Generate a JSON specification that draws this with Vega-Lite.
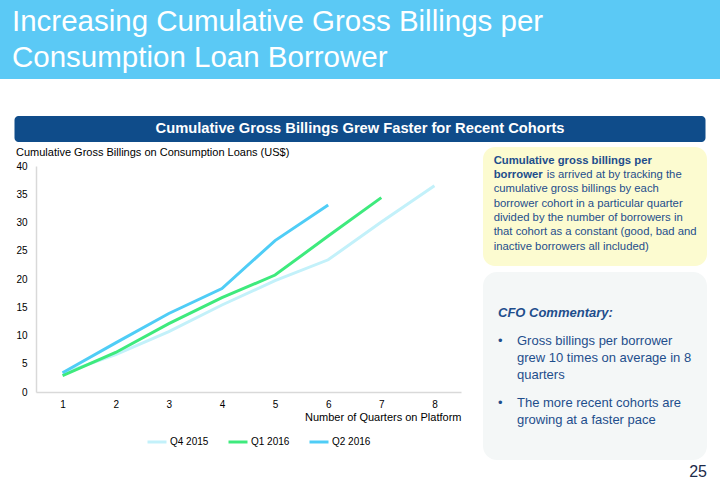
{
  "$schema": "https://vega.github.io/schema/vega-lite/v6.json",
  "background": "white",
  "padding": 0,
  "config": {
    "font": "Liberation Sans",
    "view": {"stroke": null}
  },
  "datasets": {
    "header": [
      {"line": 1, "level": 0, "text": "Increasing Cumulative Gross Billings per"},
      {"line": 2, "level": 0, "text": "Consumption Loan Borrower"}
    ],
    "banner": [
      {"text": "Cumulative Gross Billings Grew Faster for Recent Cohorts"}
    ],
    "charttitle": [
      {"level": 0, "text": "Cumulative Gross Billings on Consumption Loans (US$)"}
    ],
    "empty": [],
    "series": [
      {"cohort": "Q4 2015", "quarter": 1, "billings": 3.3},
      {"cohort": "Q4 2015", "quarter": 2, "billings": 6.6},
      {"cohort": "Q4 2015", "quarter": 3, "billings": 10.7},
      {"cohort": "Q4 2015", "quarter": 4, "billings": 15.4},
      {"cohort": "Q4 2015", "quarter": 5, "billings": 19.7},
      {"cohort": "Q4 2015", "quarter": 6, "billings": 23.4},
      {"cohort": "Q4 2015", "quarter": 7, "billings": 30.1},
      {"cohort": "Q4 2015", "quarter": 8, "billings": 36.5},
      {"cohort": "Q1 2016", "quarter": 1, "billings": 2.9},
      {"cohort": "Q1 2016", "quarter": 2, "billings": 7.0},
      {"cohort": "Q1 2016", "quarter": 3, "billings": 12.1},
      {"cohort": "Q1 2016", "quarter": 4, "billings": 16.7},
      {"cohort": "Q1 2016", "quarter": 5, "billings": 20.7},
      {"cohort": "Q1 2016", "quarter": 6, "billings": 27.6},
      {"cohort": "Q1 2016", "quarter": 7, "billings": 34.4},
      {"cohort": "Q2 2016", "quarter": 1, "billings": 3.4},
      {"cohort": "Q2 2016", "quarter": 2, "billings": 8.7},
      {"cohort": "Q2 2016", "quarter": 3, "billings": 13.9},
      {"cohort": "Q2 2016", "quarter": 4, "billings": 18.3},
      {"cohort": "Q2 2016", "quarter": 5, "billings": 26.8},
      {"cohort": "Q2 2016", "quarter": 6, "billings": 33.1}
    ],
    "definition": [
      {"line": 1, "level": 0, "weight": "bold", "text": "Cumulative gross billings per"},
      {"line": 2, "level": 0, "weight": "bold", "text": "borrower"},
      {"line": 2, "level": 0, "weight": "run", "text": "is arrived  at by tracking  the"},
      {"line": 3, "level": 0, "weight": "regular", "text": "cumulative gross billings by each"},
      {"line": 4, "level": 0, "weight": "regular", "text": "borrower cohort in a particular quarter"},
      {"line": 5, "level": 0, "weight": "regular", "text": "divided by the number of borrowers in"},
      {"line": 6, "level": 0, "weight": "regular", "text": "that cohort as a constant (good, bad and"},
      {"line": 7, "level": 0, "weight": "regular", "text": "inactive borrowers all included)"}
    ],
    "commentary": [
      {"para": 0, "line": 1, "level": 0, "text": "CFO Commentary:"},
      {"para": 1, "line": 2, "level": 0, "text": "•"},
      {"para": 1, "line": 2, "level": 1, "text": "Gross billings per borrower"},
      {"para": 1, "line": 3, "level": 1, "text": "grew 10 times on average in 8"},
      {"para": 1, "line": 4, "level": 1, "text": "quarters"},
      {"para": 2, "line": 5, "level": 0, "text": "•"},
      {"para": 2, "line": 5, "level": 1, "text": "The more recent cohorts are"},
      {"para": 2, "line": 6, "level": 1, "text": "growing at a faster pace"}
    ]
  },
  "spacing": 5,
  "vconcat": [
    {
      "spacing": 37,
      "center": true,
      "vconcat": [
        {
          "width": 720,
          "height": 79,
          "view": {"fill": "#5BC9F5", "stroke": null},
          "data": {"name": "header"},
          "mark": {"type": "text", "align": "left", "baseline": "middle", "fontSize": 29.5, "color": "#FFFFFF"},
          "encoding": {
            "x": {"field": "level", "type": "quantitative", "scale": {"domain": [-0.0169, 1], "nice": false, "zero": false}, "axis": null},
            "y": {"field": "line", "type": "quantitative", "scale": {"domain": [0.389, 2.583], "reverse": true, "nice": false, "zero": false}, "axis": null},
            "text": {"field": "text"}
          }
        },
        {
          "width": 691,
          "height": 26,
          "view": {"fill": "#0F4C8A", "stroke": null, "cornerRadius": 4},
          "data": {"name": "banner"},
          "mark": {"type": "text", "align": "center", "baseline": "middle", "fontSize": 14.7, "fontWeight": "bold", "color": "#FFFFFF"},
          "encoding": {
            "text": {"field": "text"}
          }
        }
      ]
    },
    {
      "spacing": 22,
      "hconcat": [
        {
          "spacing": 14,
          "hconcat": [
            {
              "width": 1,
              "height": 1,
              "data": {"name": "empty"},
              "mark": {"type": "text"},
              "encoding": {"text": {"field": "text"}}
            },
            {
              "spacing": 2,
              "vconcat": [
                {
                  "width": 425,
                  "height": 12,
                  "data": {"name": "charttitle"},
                  "mark": {"type": "text", "align": "left", "baseline": "middle", "fontSize": 11, "color": "#000000"},
                  "encoding": {
                    "x": {"field": "level", "type": "quantitative", "scale": {"domain": [0.047, 1.047], "nice": false, "zero": false}, "axis": null},
                    "text": {"field": "text"}
                  }
                },
                {
                  "width": 425,
                  "height": 226,
                  "data": {"name": "series"},
                  "mark": {"type": "line", "strokeWidth": 3},
                  "encoding": {
                    "x": {
                      "field": "quarter", "type": "quantitative",
                      "scale": {"domain": [0.5, 8.5], "nice": false, "zero": false},
                      "axis": {"values": [1, 2, 3, 4, 5, 6, 7, 8], "grid": false, "ticks": false, "domainColor": "#D9D9D9", "domainWidth": 1.5, "labelFontSize": 10, "labelColor": "#000000", "labelPadding": 7, "title": "Number of Quarters on Platform", "titleAnchor": "end", "titleFontSize": 11, "titleFontWeight": "normal", "titleColor": "#000000", "titlePadding": 2}
                    },
                    "y": {
                      "field": "billings", "type": "quantitative",
                      "scale": {"domain": [0, 40], "nice": false},
                      "axis": {"values": [0, 5, 10, 15, 20, 25, 30, 35, 40], "grid": false, "ticks": false, "domainColor": "#D9D9D9", "domainWidth": 1.5, "labelFontSize": 10, "labelColor": "#000000", "labelPadding": 9, "title": null, "minExtent": 20, "maxExtent": 20}
                    },
                    "color": {
                      "field": "cohort", "type": "nominal",
                      "scale": {"domain": ["Q4 2015", "Q1 2016", "Q2 2016"], "range": ["#C3F1FA", "#3EEA7D", "#4FCDF6"]},
                      "legend": {"title": null, "orient": "none", "legendX": 146, "legendY": 431, "direction": "horizontal", "symbolType": "stroke", "symbolStrokeWidth": 3, "symbolSize": 361, "labelFontSize": 10, "labelColor": "#000000", "columnPadding": 13, "labelOffset": 2}
                    }
                  }
                }
              ]
            }
          ]
        },
        {
          "spacing": 6,
          "vconcat": [
            {
              "width": 224,
              "height": 119,
              "view": {"fill": "#FCFBD0", "stroke": null, "cornerRadius": 12},
              "data": {"name": "definition"},
              "encoding": {
                "x": {"field": "level", "type": "quantitative", "scale": {"domain": [-0.05, 1], "nice": false, "zero": false}, "axis": null},
                "y": {"field": "line", "type": "quantitative", "scale": {"domain": [0.05, 8.34], "reverse": true, "nice": false, "zero": false}, "axis": null},
                "text": {"field": "text"}
              },
              "layer": [
                {
                  "transform": [{"filter": "datum.weight == 'bold'"}],
                  "mark": {"type": "text", "align": "left", "baseline": "middle", "fontSize": 11.3, "fontWeight": "bold", "color": "#1E4E8C"}
                },
                {
                  "transform": [{"filter": "datum.weight == 'run'"}],
                  "mark": {"type": "text", "align": "left", "baseline": "middle", "fontSize": 11.3, "color": "#1E4E8C", "dx": 53}
                },
                {
                  "transform": [{"filter": "datum.weight == 'regular'"}],
                  "mark": {"type": "text", "align": "left", "baseline": "middle", "fontSize": 11.3, "color": "#1E4E8C"}
                }
              ]
            },
            {
              "width": 224,
              "height": 188,
              "view": {"fill": "#F4F7F7", "stroke": null, "cornerRadius": 14},
              "title": {"text": "25", "orient": "bottom", "anchor": "end", "fontSize": 16, "fontWeight": "normal", "color": "#1C2B4A", "offset": 4},
              "data": {"name": "commentary"},
              "encoding": {
                "x": {"field": "level", "type": "quantitative", "scale": {"domain": [-0.789, 11], "nice": false, "zero": false}, "axis": null},
                "y": {"field": "line", "type": "quantitative", "scale": {"domain": [-2.06, 8.99], "reverse": true, "nice": false, "zero": false}, "axis": null},
                "text": {"field": "text"}
              },
              "layer": [
                {
                  "transform": [{"filter": "datum.para == 0"}],
                  "mark": {"type": "text", "align": "left", "baseline": "middle", "fontSize": 13, "fontWeight": "bold", "fontStyle": "italic", "color": "#1E4E8C", "dy": -11}
                },
                {
                  "transform": [{"filter": "datum.para == 1"}],
                  "mark": {"type": "text", "align": "left", "baseline": "middle", "fontSize": 13, "color": "#1E4E8C"}
                },
                {
                  "transform": [{"filter": "datum.para == 2"}],
                  "mark": {"type": "text", "align": "left", "baseline": "middle", "fontSize": 13, "color": "#1E4E8C", "dy": 11}
                }
              ]
            }
          ]
        }
      ]
    }
  ]
}
